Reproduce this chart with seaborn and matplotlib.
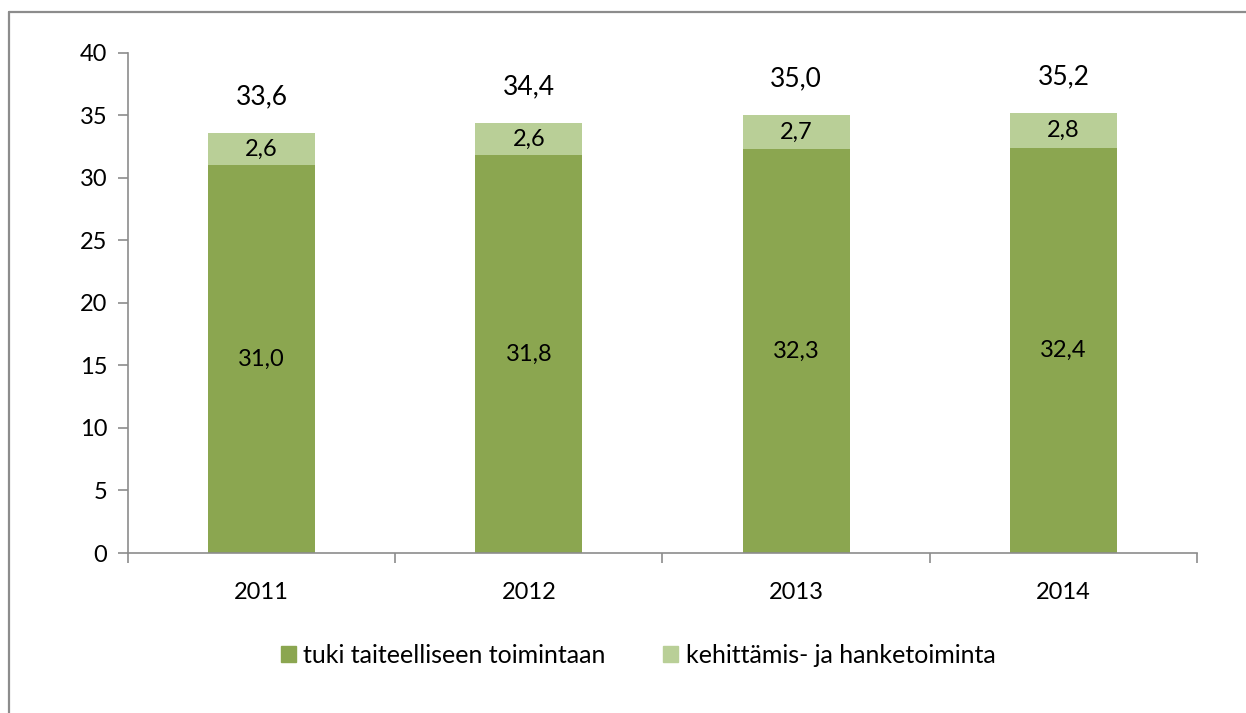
import matplotlib
matplotlib.use("Agg")
import matplotlib.pyplot as plt
from matplotlib.lines import Line2D
from matplotlib.patches import Patch
import seaborn as sns
import pandas as pd
import numpy as np

years = ["2011", "2012", "2013", "2014"]
tuki = [31.0, 31.8, 32.3, 32.4]
kehitys = [2.6, 2.6, 2.7, 2.8]
totals = [33.6, 34.4, 35.0, 35.2]
series_names = ["tuki taiteelliseen toimintaan", "kehittämis- ja hanketoiminta"]
y_ticks = [0, 5, 10, 15, 20, 25, 30, 35, 40]

dark_green = "#8BA650"
light_green = "#B9CF97"
axis_gray = "#8C8C8C"


def fi(v):
    return f"{v:.1f}".replace(".", ",")


sns.set_theme(style="white")
plt.rcParams["font.family"] = ["Lato", "DejaVu Sans"]
plt.rcParams["text.color"] = "black"
plt.rcParams["xtick.labelcolor"] = "black"
plt.rcParams["ytick.labelcolor"] = "black"

df = pd.DataFrame({"year": years, "tuki": tuki, "kehitys": kehitys, "total": totals})

fig = plt.figure(figsize=(12.46, 7.13), dpi=100)
ax = fig.add_axes([0.1027, 0.2244, 0.8580, 0.7013])

# stacked bars: full total in light green, base segment overdrawn in dark green
sns.barplot(data=df, x="year", y="total", color=light_green, width=0.4,
            saturation=1, ax=ax, linewidth=0)
sns.barplot(data=df, x="year", y="tuki", color=dark_green, width=0.4,
            saturation=1, ax=ax, linewidth=0)

for i in range(len(years)):
    ax.text(i, tuki[i] / 2, fi(tuki[i]), ha="center", va="center", fontsize=17)
    ax.text(i, tuki[i] + kehitys[i] / 2, fi(kehitys[i]), ha="center",
            va="center", fontsize=17)
    ax.text(i, totals[i] + 2.9, fi(totals[i]), ha="center", va="center",
            fontsize=19)

ax.set_ylim(0, 40)
ax.set_xlim(-0.5, len(years) - 0.5)
ax.set_yticks(y_ticks)
ax.set_xticks(range(len(years)))
ax.set_xticklabels(years)
ax.set_xticks(np.arange(-0.5, len(years)), minor=True)
ax.set_xlabel("")
ax.set_ylabel("")

for side in ["top", "right"]:
    ax.spines[side].set_visible(False)
for side in ["left", "bottom"]:
    ax.spines[side].set_color(axis_gray)
    ax.spines[side].set_linewidth(1.2)

ax.tick_params(axis="y", which="major", length=7, width=1.2, color=axis_gray,
               direction="out", left=True, labelsize=17, pad=8)
ax.tick_params(axis="x", which="major", length=0, labelsize=17, pad=21)
ax.tick_params(axis="x", which="minor", length=7, width=1.2, color=axis_gray,
               direction="out", bottom=True)

handles = [Patch(color=dark_green, label=series_names[0]),
           Patch(color=light_green, label=series_names[1])]
fig.legend(handles=handles, loc="center", bbox_to_anchor=(0.512, 0.081),
           ncol=2, frameon=False, fontsize=18, handlelength=0.6,
           handleheight=0.6, handletextpad=0.3, columnspacing=2.3)

# outer chart border (only top and left visible in the crop)
fig.add_artist(Line2D([9 / 1246, 9 / 1246], [0, 1 - 12 / 713],
                      transform=fig.transFigure, color=axis_gray, lw=1.6))
fig.add_artist(Line2D([9 / 1246, 1], [1 - 12 / 713, 1 - 12 / 713],
                      transform=fig.transFigure, color=axis_gray, lw=1.6))

fig.savefig("out.png", dpi=100)
